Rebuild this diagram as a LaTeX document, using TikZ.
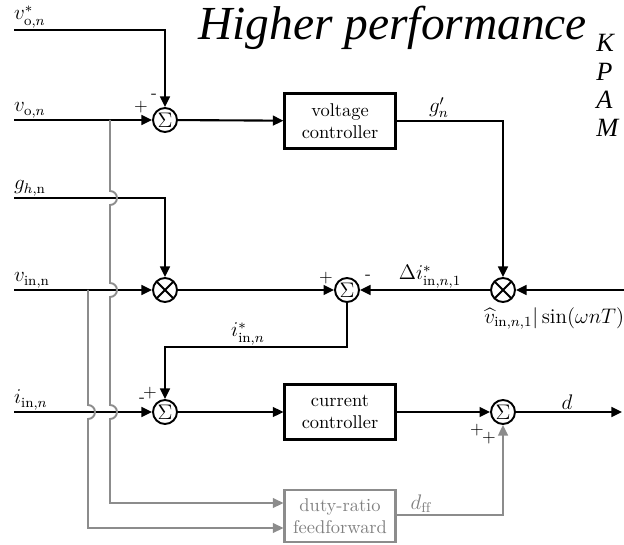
\documentclass[tikz,border=0pt]{standalone}
\usepackage{amsmath}
\usepackage{fontspec}
\newfontfamily\titlefont{Liberation Serif}
\usetikzlibrary{arrows.meta}

\begin{document}
\begin{tikzpicture}[
    x=0.02cm, y=0.02cm,
    sig/.style={line width=1.2pt, -{Triangle[length=6pt, width=5.5pt]}},
    ff/.style={line width=1.1pt, draw=black!45, -{Triangle[length=6pt, width=5.5pt]}},
    block/.style={draw, line width=1.2pt, minimum width=2.22cm, minimum height=1.1cm, align=center, inner sep=1pt, font=\fontsize{10.5}{12.5}\selectfont},
    sumnode/.style={draw, circle, line width=1.1pt, minimum size=0.48cm, inner sep=0pt, font=\large},
    mulnode/.style={draw, circle, line width=1.1pt, minimum size=0.48cm, inner sep=0pt,
        path picture={\draw[line width=1.1pt] (path picture bounding box.north west) -- (path picture bounding box.south east)
            (path picture bounding box.north east) -- (path picture bounding box.south west);}},
    lbl/.style={inner sep=1pt, font=\large},
    sgn/.style={font=\normalsize, inner sep=0pt}
]
\useasboundingbox (0,0) rectangle (624,544);

% title text
\node[anchor=base west, inner sep=0pt, font=\titlefont\itshape\fontsize{27}{30}\selectfont] (title) at (198,504) {Higher performance};
\node[anchor=north west, align=left, inner sep=0pt, font=\titlefont\itshape\fontsize{15}{16.2}\selectfont] (authors) at (596,510) {K\\P\\A\\M};

% blocks
\node[sumnode] (s1) at (165,424) {$\Sigma$};
\node[block] (vc) at (340,423) {voltage\\controller};
\node[mulnode] (m1) at (165,254) {};
\node[sumnode] (s2) at (347,254) {$\Sigma$};
\node[mulnode] (m2) at (503,254) {};
\node[sumnode] (s3) at (165,132) {$\Sigma$};
\node[block] (cc) at (340,132) {current\\controller};
\node[sumnode] (s4) at (503,132) {$\Sigma$};
\node[block, draw=black!45, text=black!50, minimum height=1.04cm] (df) at (340,28) {duty-ratio\\feedforward};

% inputs and outputs
\coordinate (vref) at (14,514);
\coordinate (vo) at (14,424);
\coordinate (gh) at (14,346);
\coordinate (vin) at (14,254);
\coordinate (iin) at (14,132);
\coordinate (vsin) at (624,254);
\coordinate (dout) at (622,132);
\coordinate (tapvo) at (110,424);
\coordinate (tapvin) at (88,254);

% signals
\draw[sig] (vref) -| (s1);
\draw[sig] (vo) -- (s1);
\draw[sig] (s1) -- (vc);
\draw[sig] (vc) -| (m2);
\draw[sig] (gh) -| (m1);
\draw[sig] (vin) -- (m1);
\draw[sig] (m1) -- (s2);
\draw[sig] (vsin) -- (m2);
\draw[sig] (m2) -- (s2);
\draw[sig] (s2) -- ++(0,-57) -| (s3);
\draw[sig] (iin) -- (s3);
\draw[sig] (s3) -- (cc);
\draw[sig] (cc) -- (s4);
\draw[sig] (s4) -- (dout);

% feedforward path
\draw[ff] (tapvo) -- (110,353) arc[start angle=90, end angle=-90, radius=0.14cm]
    -- (110,261) arc[start angle=90, end angle=-90, radius=0.14cm]
    -- (110,139) arc[start angle=90, end angle=-90, radius=0.14cm]
    -- (110,41) -- ([yshift=0.26cm]df.west);
\draw[ff] (tapvin) -- (88,139) arc[start angle=90, end angle=-90, radius=0.14cm]
    -- (88,16) -- ([yshift=-0.24cm]df.west);
\draw[ff] ([yshift=0.02cm]df.east) -| (s4);

% labels
\node[lbl, anchor=south west] (lvref) at (12,514) {$v_{\mathrm{o},n}^{*}$};
\node[lbl, anchor=south west] (lvo) at (12,424) {$v_{\mathrm{o},n}$};
\node[lbl, anchor=south west] (lgh) at (12,346) {$g_{h,\mathrm{n}}$};
\node[lbl, anchor=south west] (lvin) at (12,254) {$v_{\mathrm{in,n}}$};
\node[lbl, anchor=south west] (liin) at (12,132) {$i_{\mathrm{in},n}$};
\node[lbl, anchor=south] (lgp) at (439,424) {$g_n'$};
\node[lbl, anchor=south] (ldi) at (430,254) {$\Delta i_{\mathrm{in},n,1}^{*}$};
\node[lbl, anchor=south] (lis) at (248,197) {$i_{\mathrm{in},n}^{*}$};
\node[lbl, anchor=north west, inner sep=0pt] (lvsin) at (484,237) {$\widehat{v}_{\mathrm{in},n,1}|\sin(\omega nT)$};
\node[lbl, anchor=south] (ld) at (567,132) {$d$};
\node[lbl, anchor=south, text=black!50] (ldff) at (421,29) {$d_{\mathrm{ff}}$};

% signs
\node[sgn] (p1) at (141,437) {$+$};
\node[sgn] (n1) at (154,448) {-};
\node[sgn] (p2) at (326,266) {$+$};
\node[sgn] (n2) at (368,267) {-};
\node[sgn] (n3) at (142,144) {-};
\node[sgn] (p3) at (150,151) {$+$};
\node[sgn] (p4) at (477,114) {$+$};
\node[sgn] (p5) at (489,106) {$+$};
\end{tikzpicture}
\end{document}
